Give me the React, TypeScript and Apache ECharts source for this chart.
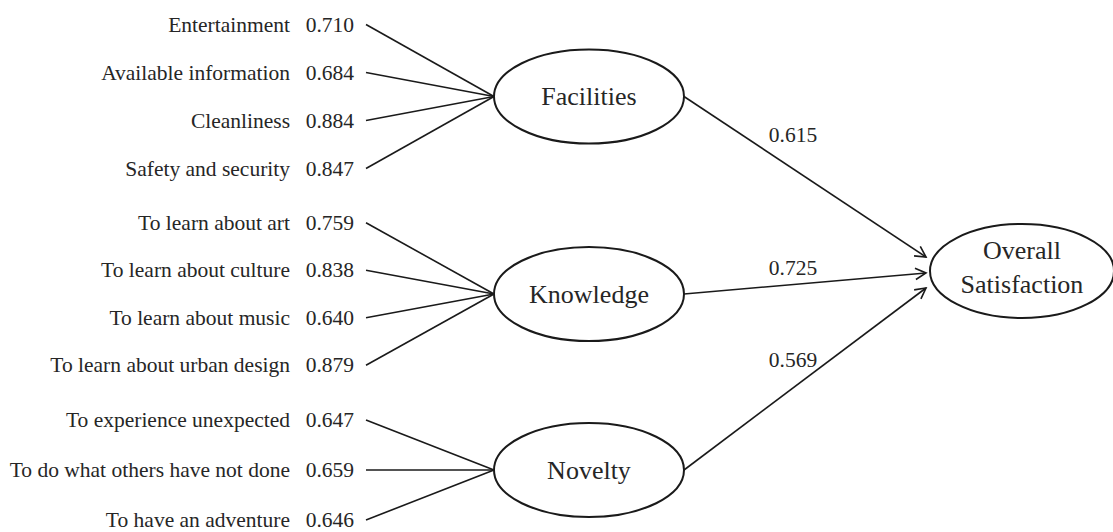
import React, { useEffect, useRef } from "react";
import * as echarts from "echarts";

// ---- data ----
const latentFactors = ["Facilities", "Knowledge", "Novelty"];
const facilitiesItems = ["Entertainment", "Available information", "Cleanliness", "Safety and security"];
const facilitiesLoadings = [0.71, 0.684, 0.884, 0.847];
const knowledgeItems = ["To learn about art", "To learn about culture", "To learn about music", "To learn about urban design"];
const knowledgeLoadings = [0.759, 0.838, 0.64, 0.879];
const noveltyItems = ["To experience unexpected", "To do what others have not done", "To have an adventure"];
const noveltyLoadings = [0.647, 0.659, 0.646];
const outcomeLines = ["Overall", "Satisfaction"];
const pathCoefficients = [0.615, 0.725, 0.569];

// ---- layout (diagram coordinates) ----
const W = 1113;
const H = 532;
const groupCenterY = [96.5, 294, 470];
const groupStep = [48, 47.5, 50];
const labelRightX = 290;
const valueRightX = 354;
const lineStartX = 366;
const latentCX = 589;
const latentRX = 95;
const latentRY = 47;
const outcomeCX = 1022;
const outcomeCY = 271;
const outcomeRX = 92;
const outcomeRY = 47;
const arrowTipX = 926;
const arrowTipY = [257, 273, 288];
const pathLabelX = 793;
const pathLabelY = [135, 268, 360];

const FONT = '"Liberation Serif", "Times New Roman", serif';
const SMALL = 21.5;
const BIG = 26;
const TEXT = "#262626";
const STROKE = "#1a1a1a";

const groups = [
  { items: facilitiesItems, loadings: facilitiesLoadings },
  { items: knowledgeItems, loadings: knowledgeLoadings },
  { items: noveltyItems, loadings: noveltyLoadings },
];

const indicatorRows: { g: number; i: number; n: number; name: string; loading: number }[] = [];
groups.forEach((grp, g) => {
  grp.items.forEach((name, i) => {
    indicatorRows.push({ g, i, n: grp.items.length, name, loading: grp.loadings[i] });
  });
});

function rowY(g: number, i: number, n: number) {
  return groupCenterY[g] + (i - (n - 1) / 2) * groupStep[g];
}

export default function App() {
  const ref = useRef<HTMLDivElement>(null);
  useEffect(() => {
    if (!ref.current) return;
    const chart = echarts.init(ref.current, undefined, { renderer: "svg" });

    const indicatorData = indicatorRows.map((r) => ({
      name: r.name,
      value: [lineStartX, rowY(r.g, r.i, r.n), r.loading, r.g],
    }));
    const latentData = latentFactors.map((name, g) => ({ name, value: [latentCX, groupCenterY[g]] }));
    const pathData = pathCoefficients.map((c, g) => ({
      name: latentFactors[g],
      value: [latentCX + latentRX, groupCenterY[g], c, g],
    }));
    const outcomeData = [{ name: outcomeLines.join("\n"), value: [outcomeCX, outcomeCY] }];

    const option: any = {
      animation: false,
      backgroundColor: "#ffffff",
      grid: { left: 0, right: 0, top: 0, bottom: 0 },
      xAxis: { type: "value", min: 0, max: W, show: false },
      yAxis: { type: "value", min: 0, max: H, inverse: true, show: false },
      series: [
        {
          type: "custom",
          name: "indicators",
          coordinateSystem: "cartesian2d",
          data: indicatorData,
          renderItem: (params: any, api: any) => {
            const x = api.value(0);
            const y = api.value(1);
            const loading = api.value(2);
            const g = api.value(3);
            const row = indicatorRows[params.dataIndex];
            const start = api.coord([x, y]);
            const end = api.coord([latentCX - latentRX, groupCenterY[g]]);
            const lab = api.coord([labelRightX, y]);
            const val = api.coord([valueRightX, y]);
            return {
              type: "group",
              children: [
                {
                  type: "text",
                  style: { text: row.name, x: lab[0], y: lab[1], align: "right", verticalAlign: "middle", font: `${SMALL}px ${FONT}`, fill: TEXT },
                },
                {
                  type: "text",
                  style: { text: loading.toFixed(3), x: val[0], y: val[1], align: "right", verticalAlign: "middle", font: `${SMALL}px ${FONT}`, fill: TEXT },
                },
                {
                  type: "line",
                  shape: { x1: start[0], y1: start[1], x2: end[0], y2: end[1] },
                  style: { stroke: STROKE, lineWidth: 1.6 },
                },
              ],
            };
          },
        },
        {
          type: "custom",
          name: "paths",
          coordinateSystem: "cartesian2d",
          data: pathData,
          renderItem: (params: any, api: any) => {
            const g = api.value(3);
            const c = api.value(2);
            const s = api.coord([api.value(0), api.value(1)]);
            const t = api.coord([arrowTipX, arrowTipY[g]]);
            const lp = api.coord([pathLabelX, pathLabelY[g]]);
            const dx = t[0] - s[0];
            const dy = t[1] - s[1];
            const len = Math.sqrt(dx * dx + dy * dy);
            const ux = dx / len;
            const uy = dy / len;
            const L = 12;
            const a = (28 * Math.PI) / 180;
            const rot = (ang: number) => [ux * Math.cos(ang) - uy * Math.sin(ang), ux * Math.sin(ang) + uy * Math.cos(ang)];
            const r1 = rot(a);
            const r2 = rot(-a);
            return {
              type: "group",
              children: [
                {
                  type: "line",
                  shape: { x1: s[0], y1: s[1], x2: t[0], y2: t[1] },
                  style: { stroke: STROKE, lineWidth: 1.6 },
                },
                {
                  type: "polyline",
                  shape: {
                    points: [
                      [t[0] - L * r1[0], t[1] - L * r1[1]],
                      [t[0], t[1]],
                      [t[0] - L * r2[0], t[1] - L * r2[1]],
                    ],
                  },
                  style: { stroke: STROKE, lineWidth: 1.6, fill: null },
                },
                {
                  type: "text",
                  style: { text: c.toFixed(3), x: lp[0], y: lp[1], align: "center", verticalAlign: "middle", font: `${SMALL}px ${FONT}`, fill: TEXT },
                },
              ],
            };
          },
        },
        {
          type: "custom",
          name: "latent",
          coordinateSystem: "cartesian2d",
          data: latentData,
          renderItem: (params: any, api: any) => {
            const c = api.coord([api.value(0), api.value(1)]);
            const e = api.coord([api.value(0) + latentRX, api.value(1) + latentRY]);
            return {
              type: "group",
              children: [
                {
                  type: "ellipse",
                  shape: { cx: c[0], cy: c[1], rx: e[0] - c[0], ry: e[1] - c[1] },
                  style: { fill: "#ffffff", stroke: STROKE, lineWidth: 2 },
                },
                {
                  type: "text",
                  style: { text: latentFactors[params.dataIndex], x: c[0], y: c[1], align: "center", verticalAlign: "middle", font: `${BIG}px ${FONT}`, fill: TEXT },
                },
              ],
            };
          },
        },
        {
          type: "custom",
          name: "outcome",
          coordinateSystem: "cartesian2d",
          data: outcomeData,
          renderItem: (params: any, api: any) => {
            const c = api.coord([api.value(0), api.value(1)]);
            const e = api.coord([api.value(0) + outcomeRX, api.value(1) + outcomeRY]);
            return {
              type: "group",
              children: [
                {
                  type: "ellipse",
                  shape: { cx: c[0], cy: c[1], rx: e[0] - c[0], ry: e[1] - c[1] },
                  style: { fill: "#ffffff", stroke: STROKE, lineWidth: 2 },
                },
                {
                  type: "text",
                  style: { text: outcomeLines[0], x: c[0], y: c[1] - 21, align: "center", verticalAlign: "middle", font: `${BIG}px ${FONT}`, fill: TEXT },
                },
                {
                  type: "text",
                  style: { text: outcomeLines[1], x: c[0], y: c[1] + 13, align: "center", verticalAlign: "middle", font: `${BIG}px ${FONT}`, fill: TEXT },
                },
              ],
            };
          },
        },
      ],
    };
    chart.setOption(option);
    return () => chart.dispose();
  }, []);

  return (
    <div
      ref={ref}
      style={{ position: "absolute", left: 0, top: 0, width: W + "px", height: H + "px", background: "#fff" }}
    />
  );
}
